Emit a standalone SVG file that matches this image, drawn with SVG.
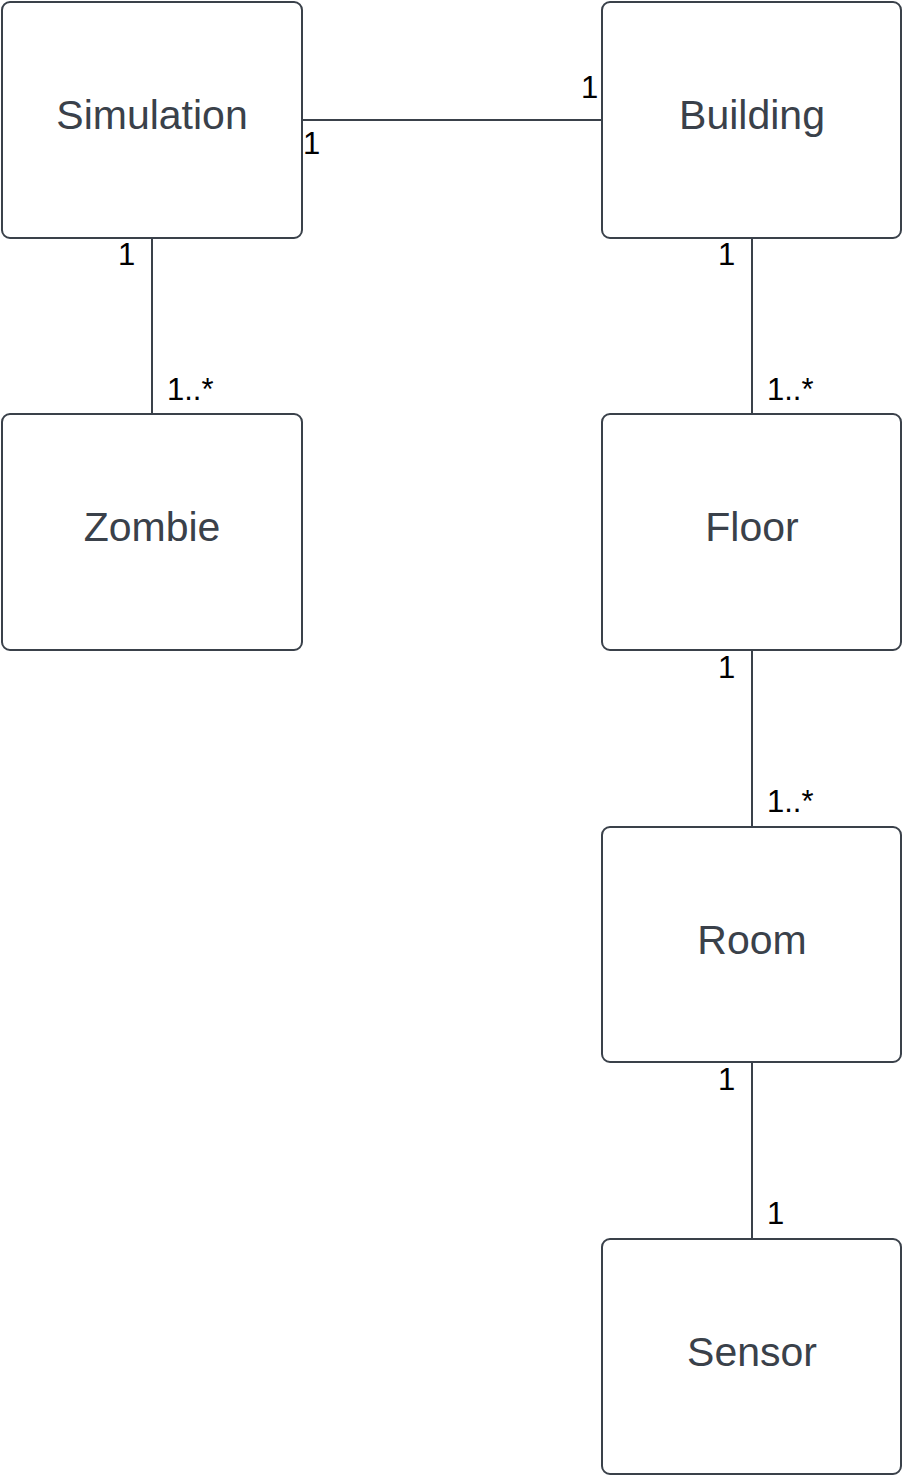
<svg xmlns="http://www.w3.org/2000/svg" width="902" height="1476" viewBox="0 0 902 1476">
<style>
.box{fill:#ffffff;stroke:#3a414a;stroke-width:2}
.lbl{font-family:"Liberation Sans",Arial,sans-serif;font-size:41px;fill:#3a414a;text-anchor:middle}
.m{font-family:"Liberation Sans",Arial,sans-serif;font-size:31px;fill:#000000}
.ln{stroke:#3a414a;stroke-width:2;fill:none}
</style>
<rect width="902" height="1476" fill="#ffffff"/>
<g id="connectors">
<line class="ln" x1="302" y1="120" x2="602" y2="120"/>
<line class="ln" x1="152" y1="238" x2="152" y2="414"/>
<line class="ln" x1="752" y1="238" x2="752" y2="414"/>
<line class="ln" x1="752" y1="650" x2="752" y2="827"/>
<line class="ln" x1="752" y1="1062" x2="752" y2="1239"/>
<text class="m" x="303" y="154">1</text>
<text class="m" x="581" y="98">1</text>
<text class="m" x="118" y="265">1</text>
<text class="m" x="167" y="400">1..*</text>
<text class="m" x="718" y="265">1</text>
<text class="m" x="767" y="400">1..*</text>
<text class="m" x="718" y="678">1</text>
<text class="m" x="767" y="812">1..*</text>
<text class="m" x="718" y="1090">1</text>
<text class="m" x="767" y="1224">1</text>
</g>
<g id="simulation"><rect class="box" x="2" y="2" width="300" height="236" rx="8"/><text class="lbl" x="152" y="129">Simulation</text></g>
<g id="building"><rect class="box" x="602" y="2" width="299" height="236" rx="8"/><text class="lbl" x="752" y="129">Building</text></g>
<g id="zombie"><rect class="box" x="2" y="414" width="300" height="236" rx="8"/><text class="lbl" x="152" y="541">Zombie</text></g>
<g id="floor"><rect class="box" x="602" y="414" width="299" height="236" rx="8"/><text class="lbl" x="752" y="541">Floor</text></g>
<g id="room"><rect class="box" x="602" y="827" width="299" height="235" rx="8"/><text class="lbl" x="752" y="954">Room</text></g>
<g id="sensor"><rect class="box" x="602" y="1239" width="299" height="235" rx="8"/><text class="lbl" x="752" y="1366">Sensor</text></g>
</svg>
